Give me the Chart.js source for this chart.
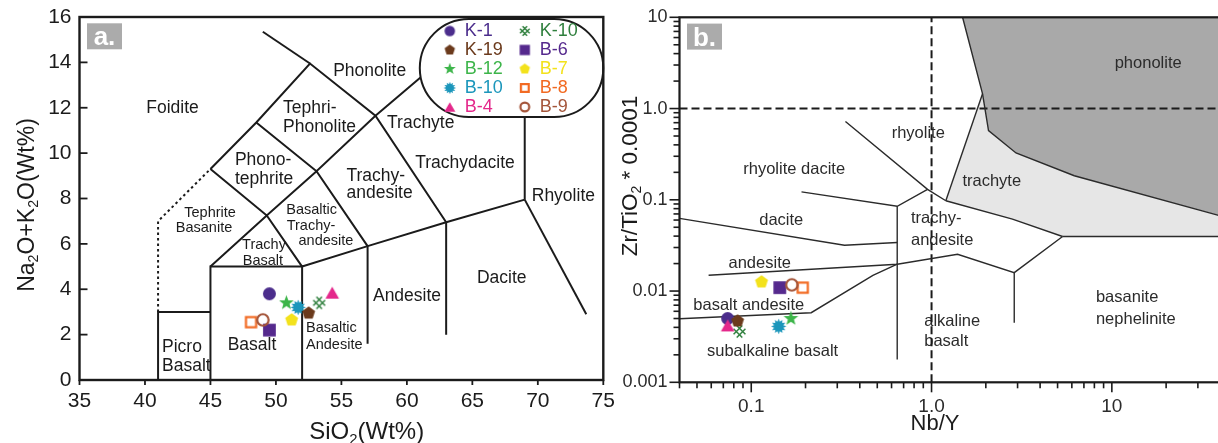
<!DOCTYPE html>
<html>
<head>
<meta charset="utf-8">
<title>TAS and Nb/Y – Zr/TiO2 classification</title>
<script src="https://cdn.jsdelivr.net/npm/chart.js@4.4.1/dist/chart.umd.min.js"></script>
<style>
  html, body { margin: 0; padding: 0; background: #fff; overflow: hidden; }
  #wrap { position: relative; width: 1218px; height: 443px; overflow: hidden; background: #fff; }
  #tas { position: absolute; left: 0; top: 0; }
  #wf  { position: absolute; left: 600px; top: 0; }
</style>
</head>
<body>
<div id="wrap">
  <canvas id="tas" width="624" height="443"></canvas>
  <canvas id="wf" width="650" height="443"></canvas>
</div>
<script>
const FONT = "'Liberation Sans', Arial, Helvetica, sans-serif";
Chart.defaults.font.family = FONT;

// ---- samples (legend order) ----
const samples = ['K-1', 'K-19', 'B-12', 'B-10', 'B-4', 'K-10', 'B-6', 'B-7', 'B-8', 'B-9'];
const sio2    = [49.5, 52.5, 50.8, 51.7, 54.3, 53.3, 49.5, 51.2, 48.1, 49.0];
const alkali  = [3.80, 2.95, 3.40, 3.20, 3.85, 3.40, 2.20, 2.65, 2.55, 2.65];
const nbY     = [0.074, 0.084, 0.166, 0.142, 0.074, 0.086, 0.144, 0.114, 0.193, 0.168];
const zrTiO2  = [0.0050, 0.0047, 0.0050, 0.0041, 0.0042, 0.0036, 0.0109, 0.0126, 0.0109, 0.0117];

const sampleColors = ['#4b2d8c', '#6b3a1c', '#3db54a', '#1b96bb', '#e4288b', '#2f7f3d', '#55298d', '#f3e21c', '#f26a22', '#a4553a'];
const sampleShapes = ['circle', 'pentagon', 'star', 'burst', 'triangle', 'hash', 'square', 'pentagon', 'openSquare', 'openCircle'];
// paint order of the symbols, bottom to top
const stacking = ['B-12', 'B-7', 'B-10', 'K-10', 'K-1', 'B-4', 'K-19', 'B-8', 'B-6', 'B-9'];

// ---- axis ticks ----
const tasXTicks = [35, 40, 45, 50, 55, 60, 65, 70, 75];
const tasYTicks = [0, 2, 4, 6, 8, 10, 12, 14, 16];
const wfXTickValues = [0.1, 1, 10];
const wfXTickLabels = ['0.1', '1.0', '10'];
const wfYTickValues = [0.001, 0.01, 0.1, 1, 10];
const wfYTickLabels = ['0.001', '0.01', '0.1', '1.0', '10'];

// ---- TAS field boundaries (SiO2, Na2O+K2O) ----
const tasSolid = [
  [[41, 0], [41, 3], [45, 3]],
  [[45, 0], [45, 5], [52, 5], [52, 0]],
  [[45, 5], [49.3, 7.25], [52, 5]],
  [[52, 5], [57, 5.9], [63, 6.95], [69, 7.95]],
  [[57, 5.9], [57, 1.6]],
  [[63, 6.95], [63, 2.0]],
  [[69, 7.95], [73.7, 2.9]],
  [[69, 7.95], [69, 12]],
  [[45, 9.3], [49.3, 7.25], [53.1, 9.2], [57, 5.9]],
  [[45, 9.3], [48.5, 11.35], [52.6, 13.95], [57.6, 11.65], [63, 6.95]],
  [[48.5, 11.35], [53.1, 9.2], [57.6, 11.65], [62.5, 14.05]],
  [[52.6, 13.95], [49.0, 15.35]]
];
const tasDotted = [[41, 3], [41, 7], [45, 9.3]];

// ---- Nb/Y vs Zr/TiO2 field boundaries ----
const wfLines = [
  [[0.333, 0.72], [0.95, 0.13], [1.2, 0.0977]],
  [[0.19, 0.122], [0.645, 0.085], [0.95, 0.13]],
  [[0.645, 0.085], [0.645, 0.00178]],
  [[0.04, 0.0625], [0.329, 0.0318], [0.645, 0.034]],
  [[0.058, 0.0149], [0.645, 0.0197], [1.394, 0.0253], [2.875, 0.0159], [5.33, 0.0396]],
  [[0.04, 0.00497], [0.215, 0.00579], [0.473, 0.01488], [0.645, 0.0197]],
  [[2.875, 0.0159], [2.875, 0.0045]],
  [[1.2, 0.0977], [2.81, 0.0614], [5.33, 0.0396]],
  [[5.33, 0.0396], [40, 0.0396]],
  [[1.2, 0.0977], [1.918, 1.45]],
  [[1.486, 10], [1.918, 1.45], [2.07, 0.573], [2.94, 0.326], [6.19, 0.1835], [40, 0.0667]]
];
const wfDashed = [
  [[1, 0.001], [1, 10]],
  [[0.04, 1], [40, 1]]
];
const phonoliteField = [[1.486, 10], [1.918, 1.45], [2.07, 0.573], [2.94, 0.326], [6.19, 0.1835], [40, 0.0667], [40, 10]];
const trachyteField  = [[1.2, 0.0977], [1.918, 1.45], [2.07, 0.573], [2.94, 0.326], [6.19, 0.1835], [40, 0.0667], [40, 0.0396], [5.33, 0.0396], [2.81, 0.0614]];

// ---- field names: text, x, y, small, align ----
const tasFieldNames = [
  ['Foidite', 42.10, 11.97], ['Phonolite', 57.16, 13.62],
  ['Tephri-', 50.54, 11.98, 0, 'left'], ['Phonolite', 50.54, 11.16, 0, 'left'],
  ['Trachyte', 61.06, 11.34],
  ['Phono-', 46.87, 9.69, 0, 'left'], ['tephrite', 46.87, 8.87, 0, 'left'],
  ['Trachydacite', 64.44, 9.54],
  ['Trachy-', 55.39, 8.99, 0, 'left'], ['andesite', 55.39, 8.22, 0, 'left'],
  ['Rhyolite', 71.95, 8.11],
  ['Tephrite', 44.97, 7.34, 1], ['Basanite', 44.51, 6.68, 1],
  ['Basaltic', 52.73, 7.49, 1], ['Trachy-', 52.68, 6.79, 1], ['andesite', 53.82, 6.13, 1],
  ['Trachy', 49.09, 5.95, 1], ['Basalt', 49.01, 5.24, 1],
  ['Dacite', 67.24, 4.51], ['Andesite', 60.01, 3.71],
  ['Basaltic', 52.30, 2.28, 1, 'left'], ['Andesite', 52.30, 1.54, 1, 'left'],
  ['Picro', 41.30, 1.43, 0, 'left'], ['Basalt', 41.30, 0.625, 0, 'left'],
  ['Basalt', 48.17, 1.52]
];
const wfFieldNames = [
  ['phonolite', 15.9, 3.13], ['rhyolite', 0.844, 0.539], ['rhyolite dacite', 0.173, 0.214],
  ['trachyte', 2.157, 0.1575], ['dacite', 0.1467, 0.0599],
  ['trachy-', 0.769, 0.0622, 0, 'left'], ['andesite', 0.769, 0.0361, 0, 'left'],
  ['andesite', 0.1114, 0.0201], ['basalt andesite', 0.0969, 0.0070],
  ['subalkaline basalt', 0.1313, 0.0022],
  ['alkaline', 0.911, 0.0047, 0, 'left'], ['basalt', 0.911, 0.00277, 0, 'left'],
  ['basanite', 8.16, 0.00846, 0, 'left'], ['nephelinite', 8.16, 0.00488, 0, 'left']
];

// ---- symbol sprites ----
const shapeScale = { circle: 1, openCircle: 1.05, square: 0.98, openSquare: 0.95, triangle: 1.05, pentagon: 1.02, star: 1.08, burst: 1.12, hash: 0.95 };
function makeMarker(shape, color, base) {
  const size = base * shapeScale[shape];
  const n = Math.ceil(size + 6);
  const c = document.createElement('canvas');
  c.width = n; c.height = n;
  const g = c.getContext('2d');
  const m = n / 2, r = size / 2;
  g.fillStyle = color; g.strokeStyle = color;
  const poly = pts => { g.beginPath(); pts.forEach(([px, py], i) => i ? g.lineTo(px, py) : g.moveTo(px, py)); g.closePath(); };
  const radial = (count, outer, inner) => {
    const total = inner ? count * 2 : count, pts = [];
    for (let i = 0; i < total; i++) {
      const rad = inner && i % 2 ? inner : outer;
      const ang = -Math.PI / 2 + i * 2 * Math.PI / total;
      pts.push([m + rad * Math.cos(ang), m + rad * Math.sin(ang)]);
    }
    return pts;
  };
  switch (shape) {
    case 'circle': g.beginPath(); g.arc(m, m, r, 0, 2 * Math.PI); g.fill(); break;
    case 'openCircle': g.lineWidth = 2.2; g.beginPath(); g.arc(m, m, r - 1.1, 0, 2 * Math.PI); g.stroke(); break;
    case 'square': g.fillRect(m - r, m - r, 2 * r, 2 * r); break;
    case 'openSquare': g.lineWidth = 2.2; g.strokeRect(m - r + 1.1, m - r + 1.1, 2 * r - 2.2, 2 * r - 2.2); break;
    case 'triangle': { const h = size * 0.87; poly([[m, m - h / 2], [m + r, m + h / 2], [m - r, m + h / 2]]); g.fill(); break; }
    case 'pentagon': poly(radial(5, r * 1.02, 0)); g.fill(); break;
    case 'star': poly(radial(5, r * 1.1, r * 0.46)); g.fill(); break;
    case 'burst': poly(radial(12, r * 1.05, r * 0.66)); g.fill(); break;
    case 'hash': {
      g.lineWidth = 1.5; g.translate(m, m); g.rotate(Math.PI / 4); g.beginPath();
      for (const d of [-r * 0.36, r * 0.36]) { g.moveTo(-r, d); g.lineTo(r, d); g.moveTo(d, -r); g.lineTo(d, r); }
      g.stroke(); break;
    }
  }
  return c;
}
const legendMarkers = samples.map((s, i) => makeMarker(sampleShapes[i], sampleColors[i], 10.5));

// ---- dataset builders ----
const lineSet = (pts, width, color, dash) => ({
  data: pts.map(([x, y]) => ({ x, y })),
  showLine: true, borderColor: color, borderWidth: width, borderDash: dash || [],
  pointRadius: 0, fill: false, order: 100, tension: 0
});
const pointSets = (xs, ys, size) => samples.map((name, i) => ({
  label: name,
  data: [{ x: xs[i], y: ys[i] }],
  pointStyle: makeMarker(sampleShapes[i], sampleColors[i], size),
  pointRadius: 7, showLine: false,
  order: stacking.length - stacking.indexOf(name)
}));

// ---- drawing helpers ----
function drawFieldNames(chart, list, color, big, small) {
  const { ctx, scales: { x, y } } = chart;
  ctx.save();
  ctx.fillStyle = color; ctx.textBaseline = 'middle';
  for (const [text, vx, vy, isSmall, align] of list) {
    ctx.font = `${isSmall ? small : big}px ${FONT}`;
    ctx.textAlign = align || 'center';
    ctx.fillText(text, x.getPixelForValue(vx), y.getPixelForValue(vy));
  }
  ctx.restore();
}
function drawRich(ctx, parts, size, ax, ay, vertical, color) {
  ctx.save();
  ctx.translate(ax, ay);
  if (vertical) ctx.rotate(-Math.PI / 2);
  ctx.fillStyle = color; ctx.textAlign = 'left'; ctx.textBaseline = 'alphabetic';
  const fontOf = sub => `${sub ? size * 0.62 : size}px ${FONT}`;
  const widths = parts.map(([t, sub]) => { ctx.font = fontOf(sub); return ctx.measureText(t).width; });
  let px = -widths.reduce((s, w) => s + w, 0) / 2;
  parts.forEach(([t, sub], i) => { ctx.font = fontOf(sub); ctx.fillText(t, px, sub ? size * 0.2 : 0); px += widths[i]; });
  ctx.restore();
}
function seg(ctx, x1, y1, x2, y2) { ctx.beginPath(); ctx.moveTo(x1, y1); ctx.lineTo(x2, y2); ctx.stroke(); }
function drawTag(ctx, a, text) {
  const bx = a.left + 7.5, by = a.top + 6.3, w = 35, h = 26;
  ctx.save();
  ctx.fillStyle = '#ababab'; ctx.fillRect(bx, by, w, h);
  ctx.fillStyle = '#ffffff'; ctx.font = `bold 26px ${FONT}`;
  ctx.textAlign = 'center'; ctx.textBaseline = 'alphabetic';
  ctx.fillText(text, bx + w / 2, by + h - 4);
  ctx.restore();
}
function fillField(chart, pts, color) {
  const { ctx, chartArea: a, scales: { x, y } } = chart;
  ctx.save();
  ctx.beginPath(); ctx.rect(a.left, a.top, a.width, a.height); ctx.clip();
  ctx.beginPath();
  pts.forEach(([vx, vy], i) => {
    const px = x.getPixelForValue(vx), py = y.getPixelForValue(vy);
    i ? ctx.lineTo(px, py) : ctx.moveTo(px, py);
  });
  ctx.closePath(); ctx.fillStyle = color; ctx.fill();
  ctx.restore();
}
function drawLegend(chart) {
  const { ctx, chartArea: a } = chart;
  const left = a.right - 183.5, right = a.right, top = a.top + 2, bottom = a.top + 100;
  const r = (bottom - top) / 2;
  ctx.save();
  ctx.beginPath();
  ctx.moveTo(left + r, top);
  ctx.lineTo(right - r, top);
  ctx.arc(right - r, top + r, r, -Math.PI / 2, Math.PI / 2);
  ctx.lineTo(left + r, bottom);
  ctx.arc(left + r, top + r, r, Math.PI / 2, Math.PI * 1.5);
  ctx.closePath();
  ctx.fillStyle = '#fff'; ctx.fill();
  ctx.lineWidth = 2; ctx.strokeStyle = '#1b1b1b'; ctx.stroke();
  ctx.font = `18px ${FONT}`; ctx.textAlign = 'left'; ctx.textBaseline = 'middle';
  samples.forEach((name, i) => {
    const col = Math.floor(i / 5), row = i % 5;
    const mx = left + 30 + col * 75, my = top + 12 + row * 19;
    const img = legendMarkers[i];
    ctx.drawImage(img, mx - img.width / 2, my - img.height / 2);
    ctx.fillStyle = sampleColors[i];
    ctx.fillText(name, mx + 15, my + 0.5);
  });
  ctx.restore();
}

// ---- panel a decorations ----
const tasDecor = {
  id: 'tasDecor',
  beforeDatasetsDraw(chart) { drawFieldNames(chart, tasFieldNames, '#1b1b1b', 17.5, 14.5); },
  afterDatasetsDraw(chart) {
    const { ctx, chartArea: a, scales: { x, y } } = chart;
    drawLegend(chart);
    ctx.save();
    ctx.strokeStyle = '#1b1b1b';
    ctx.lineWidth = 1.8;
    tasYTicks.forEach(v => { const py = y.getPixelForValue(v); seg(ctx, a.left, py, a.left + 8, py); });
    tasXTicks.forEach(v => { const px = x.getPixelForValue(v); seg(ctx, px, a.bottom, px, a.bottom + 5); });
    ctx.lineWidth = 2.4;
    ctx.strokeRect(a.left, a.top, a.width, a.height);
    ctx.restore();
    drawTag(ctx, a, 'a.');
    drawRich(ctx, [['Na', 0], ['2', 1], ['O+K', 0], ['2', 1], ['O(Wt%)', 0]], 23, 33.5, 205, true, '#1b1b1b');
    drawRich(ctx, [['SiO', 0], ['2', 1], ['(Wt%)', 0]], 24, 366.7, 439, false, '#1b1b1b');
  }
};

// ---- panel b decorations ----
const wfDecor = {
  id: 'wfDecor',
  beforeDatasetsDraw(chart) {
    fillField(chart, phonoliteField, '#a9a9a9');
    fillField(chart, trachyteField, '#e6e6e6');
    drawFieldNames(chart, wfFieldNames, '#2b2b2b', 16.5, 16.5);
  },
  afterDatasetsDraw(chart) {
    const { ctx, chartArea: a, scales: { x, y } } = chart;
    ctx.save();
    ctx.strokeStyle = '#1b1b1b'; ctx.lineWidth = 1.6;
    for (let e = -3; e <= 1; e++) {
      for (let k = 1; k <= 9; k++) {
        const v = k * Math.pow(10, e);
        if (v < 0.001 - 1e-12 || v > 10 + 1e-9) continue;
        const py = y.getPixelForValue(v), len = k === 1 ? 10 : 6;
        seg(ctx, a.left - len, py, a.left, py);
      }
    }
    for (let e = -2; e <= 1; e++) {
      for (let k = 1; k <= 9; k++) {
        const v = k * Math.pow(10, e);
        if (v < 0.04 - 1e-12 || v > 40 + 1e-9) continue;
        const px = x.getPixelForValue(v), len = k === 1 ? 10 : 6;
        seg(ctx, px, a.bottom, px, a.bottom + len);
      }
    }
    ctx.lineWidth = 2.2;
    ctx.strokeRect(a.left, a.top, a.width, a.height);
    ctx.restore();
    drawTag(ctx, a, 'b.');
    drawRich(ctx, [['Zr/TiO', 0], ['2', 1], [' * 0.0001', 0]], 22.5, 36.7, 176, true, '#1b1b1b');
    drawRich(ctx, [['Nb/Y', 0]], 22, 335, 430, false, '#1b1b1b');
  }
};

const tickFont = size => ({ family: FONT, size });
// keep the plot rectangle exactly where the axis boxes put it
const fixVertical = w => s => { s.width = w; s.paddingTop = 0; s.paddingBottom = 0; };
const fixHorizontal = h => s => { s.height = h; s.paddingLeft = 0; s.paddingRight = 0; };

// ---- panel a: total alkali vs silica ----
new Chart(document.getElementById('tas'), {
  type: 'scatter',
  data: {
    datasets: [
      ...tasSolid.map(p => lineSet(p, 2, '#1b1b1b')),
      lineSet(tasDotted, 2, '#1b1b1b', [2.5, 3]),
      ...pointSets(sio2, alkali, 13)
    ]
  },
  options: {
    responsive: false, animation: false, events: [],
    layout: { padding: { left: 0, top: 17, right: 20.7, bottom: 0 } },
    plugins: { legend: { display: false }, tooltip: { enabled: false } },
    scales: {
      x: {
        type: 'linear', min: 35, max: 75,
        afterBuildTicks: s => { s.ticks = tasXTicks.map(v => ({ value: v })); },
        afterFit: fixHorizontal(63),
        ticks: { font: tickFont(21), color: '#1b1b1b', padding: 9, maxRotation: 0, autoSkip: false },
        grid: { display: false, drawTicks: false }, border: { display: false }
      },
      y: {
        type: 'linear', min: 0, max: 16,
        afterBuildTicks: s => { s.ticks = tasYTicks.map(v => ({ value: v })); },
        afterFit: fixVertical(79.5),
        ticks: { font: tickFont(21), color: '#1b1b1b', padding: 8, autoSkip: false },
        grid: { display: false, drawTicks: false }, border: { display: false }
      }
    }
  },
  plugins: [tasDecor]
});

// ---- panel b: Zr/TiO2 vs Nb/Y ----
new Chart(document.getElementById('wf'), {
  type: 'scatter',
  data: {
    datasets: [
      ...wfLines.map(p => lineSet(p, 1.4, '#2b2b2b')),
      ...wfDashed.map(p => lineSet(p, 2, '#1b1b1b', [8, 4])),
      ...pointSets(nbY, zrTiO2, 13)
    ]
  },
  options: {
    responsive: false, animation: false, events: [],
    layout: { padding: { left: 0, top: 17.3, right: 29.6, bottom: 0 } },
    plugins: { legend: { display: false }, tooltip: { enabled: false } },
    scales: {
      x: {
        type: 'logarithmic', min: 0.04, max: 40,
        afterBuildTicks: s => { s.ticks = wfXTickValues.map(v => ({ value: v })); },
        afterFit: fixHorizontal(60.7),
        ticks: {
          callback: v => { const i = wfXTickValues.indexOf(v); return i < 0 ? '' : wfXTickLabels[i]; },
          font: tickFont(19), color: '#2b2b2b', padding: 13, maxRotation: 0, autoSkip: false
        },
        grid: { display: false, drawTicks: false }, border: { display: false }
      },
      y: {
        type: 'logarithmic', min: 0.001, max: 10,
        afterBuildTicks: s => { s.ticks = wfYTickValues.map(v => ({ value: v })); },
        afterFit: fixVertical(79.5),
        ticks: {
          callback: v => { const i = wfYTickValues.indexOf(v); return i < 0 ? '' : wfYTickLabels[i]; },
          font: tickFont(18), color: '#2b2b2b', padding: 12, autoSkip: false
        },
        grid: { display: false, drawTicks: false }, border: { display: false }
      }
    }
  },
  plugins: [wfDecor]
});
</script>
</body>
</html>
